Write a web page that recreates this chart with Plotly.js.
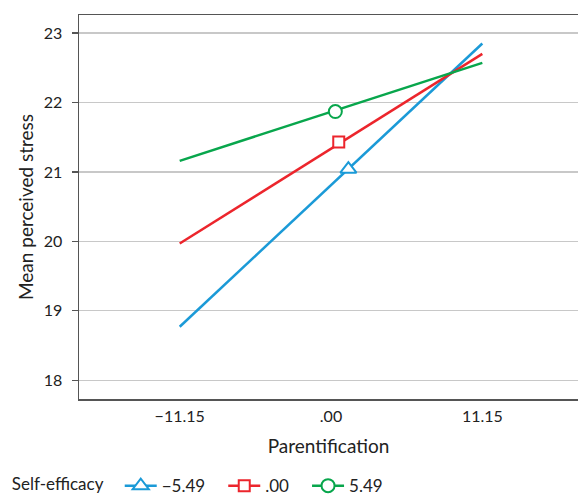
<!DOCTYPE html>
<html><head><meta charset="utf-8">
<script src="https://cdn.plot.ly/plotly-3.0.1.min.js"></script>
<style>html,body{margin:0;padding:0;background:#fff}</style>
</head><body><div id="chart" style="width:578px;height:495px"></div>
<script>
const seriesNames = ["\u22125.49", ".00", "5.49"];
const xEnds = [-11.15, 11.15];
const yStarts = [18.77, 19.97, 21.16];
const yEnds = [22.85, 22.70, 22.57];
const markerX = [1.28, 0.57, 0.32];
const markerY = [21.04, 21.43, 21.87];
const colors = ["#1b9ad7", "#ec252c", "#08a64c"];
const symbols = ["triangle-up", "square", "circle"];
const markerSizes = [14, 11, 13];
const xTickVals = [-11.15, 0, 11.15];
const xTickText = ["\u221211.15", ".00", "11.15"];
const yTickVals = [18, 19, 20, 21, 22, 23];

const traces = [];
for (let i = 0; i < seriesNames.length; i++) {
  traces.push({
    x: xEnds, y: [yStarts[i], yEnds[i]], mode: "lines",
    line: {color: colors[i], width: 2.5}, showlegend: false, hoverinfo: "skip",
    legendgroup: "g" + i
  });
}
const pad = "\u00a0\u00a0\u00a0";
for (let i = 0; i < seriesNames.length; i++) {
  traces.push({
    x: [markerX[i]], y: [markerY[i]], mode: "lines+markers", name: seriesNames[i] + pad,
    line: {color: colors[i], width: 2.5},
    marker: {symbol: symbols[i], size: markerSizes[i], color: "#fff",
             line: {color: colors[i], width: 2}},
    legendgroup: "g" + i
  });
}
const font = "Lato, 'Open Sans', sans-serif";
const layout = {
  width: 578, height: 495,
  margin: {l: 79, r: 0, t: 15, b: 96, autoexpand: false},
  paper_bgcolor: "#fff", plot_bgcolor: "#fff",
  font: {family: font, size: 16, color: "#222"},
  xaxis: {
    range: [-18.57, 18.2], tickvals: xTickVals, ticktext: xTickText,
    showgrid: false, zeroline: false, showline: true, linecolor: "#555", linewidth: 1.5,
    mirror: true, ticks: "", tickfont: {size: 16}, ticklabelstandoff: 2,
    title: {text: "Parentification", font: {size: 19}, standoff: 16}
  },
  yaxis: {
    range: [17.73, 23.26], tickvals: yTickVals, showgrid: true, gridcolor: "#c8c8c8", gridwidth: 1.2,
    zeroline: false, showline: true, linecolor: "#555", linewidth: 1.5,
    ticks: "outside", ticklen: 6, tickwidth: 1.2, tickcolor: "#555",
    tickfont: {size: 16}, ticklabelstandoff: 6,
    title: {text: "Mean perceived stress", font: {size: 19}, standoff: 5}
  },
  legend: {
    orientation: "h", x: 0.017, xref: "container", xanchor: "left",
    y: 0.018, yref: "container", yanchor: "middle",
    title: {text: "Self-efficacy\u00a0\u00a0", font: {size: 17}, side: "left"},
    font: {size: 17}, itemwidth: 32
  },
  showlegend: true
};
Plotly.newPlot("chart", traces, layout, {displayModeBar: false, staticPlot: true});
</script></body></html>
